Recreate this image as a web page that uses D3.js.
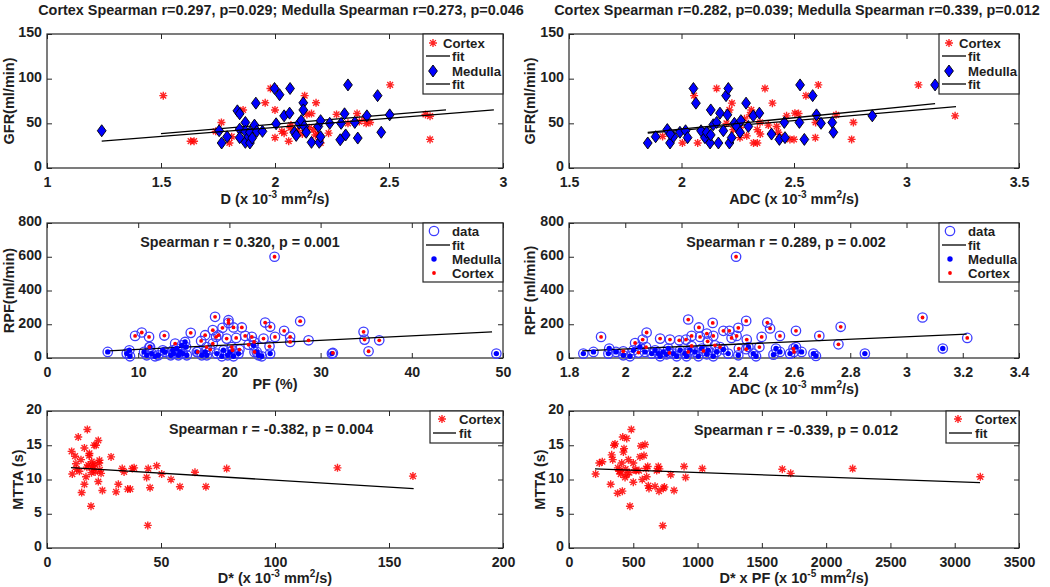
<!DOCTYPE html>
<html><head><meta charset="utf-8">
<script src="https://cdn.jsdelivr.net/npm/d3@7"></script>
<style>
body{margin:0;background:#fff}
text{font-family:"Liberation Sans",Arial,sans-serif;font-weight:bold;fill:#1e1e1e}
</style>
</head><body><svg id="c" width="1050" height="587"></svg>
<script>
// ---------------- DATA ----------------
// Panel 1: GFR vs D
const p1CortexX = [1.51,1.63,1.645,1.74,1.765,1.80,1.81,1.86,1.957,1.98,2.0,2.0,2.0,2.03,2.04,2.06,2.067,2.07,2.13,2.14,2.16,2.18,2.17,2.177,2.19,2.195,2.2,2.12,2.1,2.15,2.235,2.27,2.32,2.36,2.37,2.40,2.417,2.395,2.505,2.66,2.68,2.68];
const p1CortexY = [81,30,30,41,51,28,35,65,73,89,89,65,34,41,39,30,45,48,81,60,61,73,43,37,37,32,28,38,42,45,39,60,50,61,52,50,51,56,93,60,58,32];
const p1MedullaX = [1.24,1.755,1.766,1.79,1.835,1.845,1.845,1.845,1.87,1.87,1.87,1.884,1.89,1.89,1.9,1.91,1.916,1.92,1.945,1.998,2.005,2.02,2.04,2.064,2.066,2.085,2.093,2.106,2.115,2.124,2.124,2.128,2.137,2.16,2.19,2.194,2.2,2.2,2.24,2.286,2.29,2.305,2.31,2.32,2.35,2.363,2.403,2.45,2.466,2.503];
const p1MedullaY = [41.7,41.7,28,35,64,60.7,43.5,34,51,41,28.7,35,40,28,33.5,48,72.6,41,41,89,49.5,82,58.4,61.4,89,40,36.5,50,53,73,65,46.5,40,28.7,46.5,28.7,35,53,50,31.6,50,60.7,37,93,51,33.5,58.4,81,40,59.5];
const p1CortexFitX = [1.5,2.75], p1CortexFitY = [38.5,65];
const p1MedullaFitX = [1.24,2.96], p1MedullaFitY = [30,65];

// Panel 2: GFR vs ADC
const p2CortexX = [1.916,2.004,2.056,2.072,2.156,2.213,2.224,2.23,2.26,2.304,2.31,2.32,2.337,2.337,2.349,2.371,2.386,2.404,2.423,2.43,2.438,2.467,2.482,2.504,2.553,2.595,2.596,2.608,2.687,2.756,2.764,3.053,3.216,2.52,2.5,2.29,2.26,2.2,2.28,2.35];
const p2CortexY = [35.4,28,81,28,89,65,72.6,43,34,59.5,65,28,28,43,51,89,48,72.6,46.5,40,35,58.4,32,61.4,81,34,51,93,59.5,32,51,93,58.4,61,32,36,45,50,55,38];
const p2MedullaX = [1.85,1.885,1.937,1.949,1.964,1.95,1.993,2.018,2.027,2.053,2.064,2.087,2.104,2.112,2.127,2.13,2.13,2.141,2.156,2.164,2.171,2.186,2.198,2.204,2.208,2.213,2.223,2.235,2.245,2.26,2.264,2.287,2.297,2.319,2.346,2.40,2.435,2.46,2.457,2.527,2.524,2.546,2.583,2.60,2.62,2.67,2.675,2.848,3.127];
const p2MedullaY = [28,35,43,28,35,38,40,41.7,34,89,72.6,41.7,34,40,28,65,37,48.4,51,28,61.4,41.7,81,59.5,89,28,34,50,46.5,40,53,72.6,46.5,58.4,61.4,38,32,34,51,93,51,32,81,59.5,50,51,40,58.4,93];
const p2CortexFitX = [1.85,3.22], p2CortexFitY = [39,68.8];
const p2MedullaFitX = [1.85,3.127], p2MedullaFitY = [39.8,72];

// Panel 3: RPF vs PF
const p3CortexX = [9.66,10.39,11.19,11.23,12.87,14.05,15.76,16.9,16.53,17.34,17.5,17.9,18.18,18.18,18.43,18.54,18.8,19.24,19.7,19.9,19.9,20.26,20.34,20.45,20.74,21.1,21.36,21.73,22.1,22.46,22.71,22.75,23.74,23.92,24.47,24.4,25.0,24.95,26.0,26.66,26.66,27.76,28.68,31.35,34.71,34.82,35.26,36.43];
const p3CortexY = [131,151,125,65,133,85,149,101,36,135,65,50,165,85,244,125,135,179,115,224,208,65,46,181,119,50,181,131,79,125,95,36,115,210,185,69,125,600,161,125,95,218,105,30,155,109,40,105];
const p3MedullaX = [6.66,8.74,9.03,9.1,10.64,10.94,11.3,11.48,11.85,12.2,12.69,12.95,13.57,13.79,13.86,14.23,14.41,14.6,14.78,14.89,15.14,15.25,15.33,16.42,16.97,17.34,17.52,18.62,19.17,19.35,19.82,20.08,20.45,21.0,22.65,23.0,23.2,23.55,24.47,31.24,49.27];
const p3MedullaY = [36,26,46,10,36,16,65,26,10,16,46,36,16,46,26,56,16,36,75,26,95,65,16,36,16,36,16,26,10,46,16,36,10,26,75,36,16,10,26,26,26];
const p3FitX = [6.7,48.8], p3FitY = [42,155];

// Panel 4: RPF vs ADC
const p4CortexX = [1.914,1.993,2.035,2.047,2.062,2.076,2.074,2.124,2.159,2.157,2.192,2.216,2.224,2.224,2.236,2.236,2.262,2.266,2.278,2.29,2.293,2.311,2.313,2.319,2.337,2.349,2.37,2.378,2.394,2.396,2.402,2.43,2.432,2.43,2.404,2.477,2.485,2.505,2.515,2.55,2.598,2.6,2.607,2.69,2.758,2.766,3.057,3.216];
const p4CortexY = [125,40,89,32,109,151,65,115,109,30,105,109,228,36,71,131,181,125,42,145,99,208,131,75,65,161,161,119,600,131,179,220,109,52,56,65,125,210,175,131,56,36,161,131,81,185,240,119];
const p4MedullaX = [1.851,1.887,1.94,1.943,1.967,1.993,2.017,2.029,2.052,2.07,2.094,2.106,2.118,2.124,2.135,2.147,2.153,2.171,2.183,2.195,2.212,2.218,2.23,2.248,2.26,2.272,2.29,2.295,2.313,2.325,2.349,2.366,2.402,2.438,2.455,2.465,2.527,2.536,2.55,2.586,2.607,2.627,2.669,2.678,2.852,3.129];
const p4MedullaY = [26,36,26,56,36,16,10,46,65,36,26,46,26,10,36,22,56,26,10,46,26,10,46,36,10,56,22,46,10,36,50,26,16,65,26,10,20,56,36,26,65,36,26,12,26,56];
const p4FitX = [1.847,3.214], p4FitY = [42,141];

// Panel 5: MTTA vs D*
const p5X = [10.8,11.1,12.3,12.7,13.7,14.2,14.9,15.2,16.4,16.4,17.1,17.7,18.1,18.5,19.3,19.6,19.5,20.3,20.7,21.5,21.1,22.5,22.9,22.5,23.2,23.7,24.3,23.0,21.0,28.1,30.3,31.3,33.0,33.8,35.4,36.5,37.4,38.2,43.7,44.4,45.2,44.2,48.1,50.3,54.4,58.3,64.9,69.7,78.8,127.4,160.5,18.6,20.0,13.0,17.5];
const p5Y = [14.1,10.8,13.4,12.3,16.2,11.2,12.9,8.1,14.6,9.3,10.4,17.3,12.1,13.5,6.1,12.6,11.0,11.6,15.0,15.0,11.1,15.7,12.4,9.7,11.4,10.9,8.4,12.8,12.2,13.3,8.2,9.3,11.6,11.1,8.6,8.6,11.6,11.7,10.3,11.6,8.8,3.3,12.0,10.8,10.0,8.95,11.05,8.95,11.6,11.7,10.5,13.8,12.0,11.5,11.8];
const p5FitX = [10.5,160.8], p5FitY = [11.73,8.66];

// Panel 6: MTTA vs D* x PF
const p6X = [207,236,259,324,332,340,350,358,378,397,402,410,415,418,423,428,436,449,449,462,474,485,500,500,513,521,544,552,560,570,583,591,599,604,612,617,622,669,682,695,700,703,734,742,729,791,817,895,907,1037,1659,1724,2206,3199,380,390,440,470];
const p6Y = [10.8,12.4,12.6,9.3,13.6,12.9,15.0,15.2,8.0,11.3,10.8,12.4,8.3,16.2,14.0,14.5,10.3,16.0,10.7,12.9,6.1,17.3,12.4,9.6,11.4,11.3,11.3,13.3,14.9,10.0,13.5,15.1,11.6,10.4,11.9,9.1,8.7,9.0,11.3,11.9,8.3,11.55,8.7,8.9,3.25,10.7,8.4,11.9,10.3,11.6,11.5,10.9,11.6,10.4,11.7,11.2,11.5,11.0];
const p6FitX = [202,3197], p6FitY = [11.55,9.55];

// Ticks
const p1XTicks=[1,1.5,2,2.5,3], p2XTicks=[1.5,2,2.5,3,3.5];
const gfrTicks=[0,50,100,150];
const p3XTicks=[0,10,20,30,40,50], p4XTicks=[1.8,2,2.2,2.4,2.6,2.8,3,3.2,3.4];
const rpfTicks=[0,200,400,600,800];
const p5XTicks=[0,50,100,150,200], p6XTicks=[0,500,1000,1500,2000,2500,3000,3500];
const mttaTicks=[0,5,10,15,20];

// Texts
const titles = ["Cortex Spearman r=0.297, p=0.029; Medulla Spearman r=0.273, p=0.046",
                "Cortex Spearman r=0.282, p=0.039; Medulla Spearman r=0.339, p=0.012"];
const notes = ["Spearman r = 0.320, p = 0.001","Spearman r = 0.289, p = 0.002",
               "Spearman r = -0.382, p = 0.004","Spearman r = -0.339, p = 0.012"];

// ---------------- DRAW ----------------
const svg = d3.select("#c");
const AX = "#262626", RED = "#ff0000", BLUE = "#0000ff";
const COLS = [{x0:47,x1:503},{x0:569,x1:1019}];
const ROWS = [{y0:34,y1:168},{y0:223,y1:358},{y0:411,y1:548}];

const starPath = r => { const d=r*0.72; return `M${-r},0L${r},0M0,${-r}L0,${r}M${-d},${-d}L${d},${d}M${-d},${d}L${d},${-d}`; };
const diamondPath = (w,h) => `M0,${-h}L${w},0L0,${h}L${-w},0Z`;

const markers = {
  star: (g,x,y)=> g.append("path").attr("d",starPath(4)).attr("transform",`translate(${x},${y})`)
        .attr("stroke",RED).attr("stroke-width",1.4).attr("fill","none").attr("stroke-opacity",0.85),
  diamond: (g,x,y)=> g.append("path").attr("d",diamondPath(4.4,6)).attr("transform",`translate(${x},${y})`)
        .attr("fill",BLUE).attr("stroke","#000").attr("stroke-width",0.9),
  circle: (g,x,y)=> g.append("circle").attr("cx",x).attr("cy",y).attr("r",4.7)
        .attr("fill","none").attr("stroke","#3d3dff").attr("stroke-width",1.3),
  bdot: (g,x,y)=> g.append("circle").attr("cx",x).attr("cy",y).attr("r",2.7).attr("fill",BLUE),
  rdot: (g,x,y)=> g.append("circle").attr("cx",x).attr("cy",y).attr("r",1.9).attr("fill",RED)
};

function richText(sel, parts){
  parts.forEach(([t,sup],i)=>{
    const ts = sel.append("tspan").text(t);
    if(sup){ ts.attr("font-size","10px").attr("dy",-6); }
    else if(i>0 && parts[i-1][1]){ ts.attr("dy",6); }
  });
}

function panel(cfg){
  const c = COLS[cfg.col], r = ROWS[cfg.row];
  const x = d3.scaleLinear().domain(cfg.xDomain).range([c.x0,c.x1]);
  const y = d3.scaleLinear().domain(cfg.yDomain).range([r.y1,r.y0]);
  const g = svg.append("g");
  const fmt = v => String(+v.toFixed(3));

  g.append("rect").attr("x",c.x0).attr("y",r.y0).attr("width",c.x1-c.x0).attr("height",r.y1-r.y0)
    .attr("fill","#fff").attr("stroke",AX).attr("stroke-width",1.2);

  const styleAxis = a => { a.select(".domain").remove(); a.selectAll("line").attr("stroke",AX).attr("stroke-width",1);
    a.selectAll("text").attr("fill","#1e1e1e").attr("font-size","14.2px").attr("font-family",null); };
  g.append("g").attr("transform",`translate(0,${r.y1})`)
    .call(d3.axisBottom(x).tickValues(cfg.xTicks).tickFormat(fmt).tickSize(-5).tickPadding(8.5)).call(styleAxis);
  g.append("g").attr("transform",`translate(0,${r.y0})`)
    .call(d3.axisTop(x).tickValues(cfg.xTicks).tickFormat("").tickSize(-5)).call(styleAxis);
  const ya = g.append("g").attr("transform",`translate(${c.x0},0)`)
    .call(d3.axisLeft(y).tickValues(cfg.yTicks).tickFormat(fmt).tickSize(-5).tickPadding(5)).call(styleAxis);
  ya.selectAll("text").attr("dy","0.2em");
  g.append("g").attr("transform",`translate(${c.x1},0)`)
    .call(d3.axisRight(y).tickValues(cfg.yTicks).tickFormat("").tickSize(-5)).call(styleAxis);

  const line = d3.line().x(d=>x(d[0])).y(d=>y(d[1]));
  cfg.layers.forEach(L=>{
    if(L.type==="line"){
      g.append("path").attr("d",line(d3.zip(L.xs,L.ys))).attr("stroke","#000").attr("stroke-width",1.3).attr("fill","none");
    } else {
      L.xs.forEach((v,i)=> markers[L.type](g, x(v), y(L.ys[i])));
    }
  });

  const cx = (c.x0+c.x1)/2;
  richText(g.append("text").attr("x",cx).attr("y",r.y1+cfg.xLabelOff).attr("text-anchor","middle").attr("font-size","14.5px"), cfg.xLabel);
  g.append("text").attr("transform",`translate(${c.x0-cfg.yLabelOff},${(r.y0+r.y1)/2}) rotate(-90)`)
    .attr("text-anchor","middle").attr("dy","0.35em").attr("font-size","14.5px").text(cfg.yLabel);
  if(cfg.title) g.append("text").attr("x",cfg.titleX).attr("y",15).attr("text-anchor","middle").attr("font-size","14.4px").text(cfg.title);
  if(cfg.note) g.append("text").attr("x",cfg.noteX).attr("y",r.y0+cfg.noteY).attr("text-anchor","middle").attr("font-size","14.3px").text(cfg.note);

  const lg = cfg.legend;
  const lx = c.x1 - lg.w, ly = r.y0;
  const leg = g.append("g");
  leg.append("rect").attr("x",lx).attr("y",ly).attr("width",lg.w).attr("height",lg.h)
    .attr("fill","#fff").attr("stroke",AX).attr("stroke-width",1.2);
  lg.items.forEach((it,i)=>{
    const yy = ly + lg.rows[i];
    if(it.m==="line"){
      leg.append("line").attr("x1",lx+3).attr("x2",lx+lg.lineEnd).attr("y1",yy).attr("y2",yy).attr("stroke","#000").attr("stroke-width",1.3);
    } else markers[it.m](leg, lx+lg.mx, yy);
    leg.append("text").attr("x",lx+(it.tx!==undefined?it.tx:lg.tx)).attr("y",yy).attr("dy","0.36em")
      .attr("font-size","13.2px").text(it.t);
  });
}

const dUnit = [["D (x 10",0],["-3",1],[" mm",0],["2",1],["/s)",0]];
const adcUnit = [["ADC (x 10",0],["-3",1],[" mm",0],["2",1],["/s)",0]];
const legGFR = {w:80,h:60,rows:[9,22,37,50],mx:10,tx:29,lineEnd:27,
  items:[{m:"star",t:"Cortex",tx:20},{m:"line",t:"fit"},{m:"diamond",t:"Medulla"},{m:"line",t:"fit"}]};
const legRPF = {w:80,h:59,rows:[8,22,36,50],mx:11,tx:29,lineEnd:27,
  items:[{m:"circle",t:"data"},{m:"line",t:"fit"},{m:"bdot",t:"Medulla"},{m:"rdot",t:"Cortex"}]};
const legMT = {w:73,h:32,rows:[8,22],mx:12,tx:29,lineEnd:26,
  items:[{m:"star",t:"Cortex"},{m:"line",t:"fit"}]};

panel({col:0,row:0,xDomain:[1,3],yDomain:[0,150],xTicks:p1XTicks,yTicks:gfrTicks,
  xLabel:dUnit,xLabelOff:36,yLabel:"GFR(ml/min)",yLabelOff:38,title:titles[0],titleX:281,legend:legGFR,
  layers:[{type:"star",xs:p1CortexX,ys:p1CortexY},{type:"line",xs:p1CortexFitX,ys:p1CortexFitY},
          {type:"diamond",xs:p1MedullaX,ys:p1MedullaY},{type:"line",xs:p1MedullaFitX,ys:p1MedullaFitY}]});
panel({col:1,row:0,xDomain:[1.5,3.5],yDomain:[0,150],xTicks:p2XTicks,yTicks:gfrTicks,
  xLabel:adcUnit,xLabelOff:36,yLabel:"GFR(ml/min)",yLabelOff:39,title:titles[1],titleX:797,legend:legGFR,
  layers:[{type:"star",xs:p2CortexX,ys:p2CortexY},{type:"line",xs:p2CortexFitX,ys:p2CortexFitY},
          {type:"diamond",xs:p2MedullaX,ys:p2MedullaY},{type:"line",xs:p2MedullaFitX,ys:p2MedullaFitY}]});
panel({col:0,row:1,xDomain:[0,50],yDomain:[0,800],xTicks:p3XTicks,yTicks:rpfTicks,
  xLabel:[["PF (%)",0]],xLabelOff:31,yLabel:"RPF(ml/min)",yLabelOff:38,note:notes[0],noteX:240,noteY:24,legend:legRPF,
  layers:[{type:"circle",xs:p3CortexX,ys:p3CortexY},{type:"circle",xs:p3MedullaX,ys:p3MedullaY},
          {type:"line",xs:p3FitX,ys:p3FitY},
          {type:"bdot",xs:p3MedullaX,ys:p3MedullaY},{type:"rdot",xs:p3CortexX,ys:p3CortexY}]});
panel({col:1,row:1,xDomain:[1.8,3.4],yDomain:[0,800],xTicks:p4XTicks,yTicks:rpfTicks,
  xLabel:adcUnit,xLabelOff:36,yLabel:"RPF (ml/min)",yLabelOff:39,note:notes[1],noteX:786,noteY:24,legend:legRPF,
  layers:[{type:"circle",xs:p4CortexX,ys:p4CortexY},{type:"circle",xs:p4MedullaX,ys:p4MedullaY},
          {type:"line",xs:p4FitX,ys:p4FitY},
          {type:"bdot",xs:p4MedullaX,ys:p4MedullaY},{type:"rdot",xs:p4CortexX,ys:p4CortexY}]});
panel({col:0,row:2,xDomain:[0,200],yDomain:[0,20],xTicks:p5XTicks,yTicks:mttaTicks,
  xLabel:[["D* (x 10",0],["-3",1],[" mm",0],["2",1],["/s)",0]],xLabelOff:35,yLabel:"MTTA (s)",yLabelOff:29,
  note:notes[2],noteX:271,noteY:23,legend:legMT,
  layers:[{type:"star",xs:p5X,ys:p5Y},{type:"line",xs:p5FitX,ys:p5FitY}]});
panel({col:1,row:2,xDomain:[0,3500],yDomain:[0,20],xTicks:p6XTicks,yTicks:mttaTicks,
  xLabel:[["D* x PF (x 10",0],["-5",1],[" mm",0],["2",1],["/s)",0]],xLabelOff:35,yLabel:"MTTA (s)",yLabelOff:29,
  note:notes[3],noteX:796,noteY:24,legend:legMT,
  layers:[{type:"star",xs:p6X,ys:p6Y},{type:"line",xs:p6FitX,ys:p6FitY}]});
</script></body></html>
